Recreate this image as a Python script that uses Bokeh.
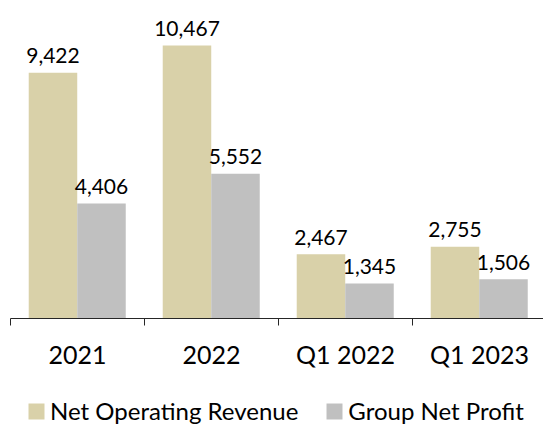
from bokeh.plotting import figure
from bokeh.layouts import column
from bokeh.models import Range1d, FixedTicker, ColumnDataSource, Legend, LegendItem
from bokeh.core.properties import value
from bokeh.embed import file_html
from bokeh.resources import INLINE

categories = ["2021", "2022", "Q1 2022", "Q1 2023"]
revenue = [9422, 10467, 2467, 2755]
profit = [4406, 5552, 1345, 1506]
series_names = ["Net Operating Revenue", "Group Net Profit"]
colors = ["#D9D1A9", "#C0C0C0"]

FONT = "Lato"
idx = list(range(len(categories)))
off_rev, off_pro, bw = 0.317, 0.679, 0.362

src = ColumnDataSource(dict(
    xr=[i + off_rev for i in idx],
    xp=[i + off_pro for i in idx],
    rev=revenue, pro=profit,
    rev_t=[f"{v:,}" for v in revenue],
    pro_t=[f"{v:,}" for v in profit],
))

p = figure(width=543, height=380, output_backend="svg", toolbar_location=None,
           x_range=Range1d(0, 533 / 134), y_range=Range1d(0, 11886),
           y_axis_location=None, min_border_left=10, min_border_right=0,
           min_border_top=8, min_border_bottom=62)
p.outline_line_color = None
p.grid.visible = False
p.background_fill_color = "white"
p.border_fill_color = "white"

r1 = p.vbar(x="xr", top="rev", width=bw, bottom=0, source=src,
            fill_color=colors[0], line_color=None)
r2 = p.vbar(x="xp", top="pro", width=bw, bottom=0, source=src,
            fill_color=colors[1], line_color=None)

for xcol, ycol, tcol in (("xr", "rev", "rev_t"), ("xp", "pro", "pro_t")):
    p.text(x=xcol, y=ycol, text=tcol, source=src, text_align="center",
           text_baseline="alphabetic", y_offset=-17,
           text_font=value(FONT), text_font_size="21px", text_color="black")

ax = p.xaxis[0]
ax.ticker = FixedTicker(ticks=[i + 0.5 for i in idx], minor_ticks=[float(i) for i in idx + [len(idx)]])
ax.major_label_overrides = {i + 0.5: c for i, c in zip(idx, categories)}
ax.major_tick_in = 0
ax.major_tick_out = 0
ax.minor_tick_in = 0
ax.minor_tick_out = 7
ax.minor_tick_line_color = "#262626"
ax.axis_line_color = "#262626"
ax.axis_line_width = 1
ax.major_label_standoff = 13
ax.major_label_text_font = FONT
ax.major_label_text_font_size = "25px"
ax.major_label_text_color = "black"

# legend strip below the chart (swatch renderer holds no drawable values)
lg = figure(width=543, height=46, output_backend="svg", toolbar_location=None,
            x_range=Range1d(0, 1), y_range=Range1d(0, 1),
            x_axis_location=None, y_axis_location=None,
            min_border_left=0, min_border_right=0, min_border_top=0, min_border_bottom=0)
lg.outline_line_color = None
lg.grid.visible = False
nan = float("nan")
sw_src = ColumnDataSource(dict(name=series_names, color=colors,
                               x=[nan] * len(colors), top=[nan] * len(colors)))
sw = lg.vbar(x="x", top="top", width=0.1, source=sw_src,
             fill_color="color", line_color=None)

legend = Legend(items=[LegendItem(label=n, renderers=[sw], index=k)
                       for k, n in enumerate(series_names)],
                orientation="horizontal", location=(16, 1),
                glyph_width=20, glyph_height=20, label_standoff=4, spacing=26,
                padding=0, margin=0, border_line_color=None,
                background_fill_alpha=0,
                label_text_font=FONT, label_text_font_size="24px",
                label_text_color="black")
lg.add_layout(legend, "center")

layout = column(p, lg, spacing=0)
open("out.html", "w").write(file_html(layout, INLINE))
